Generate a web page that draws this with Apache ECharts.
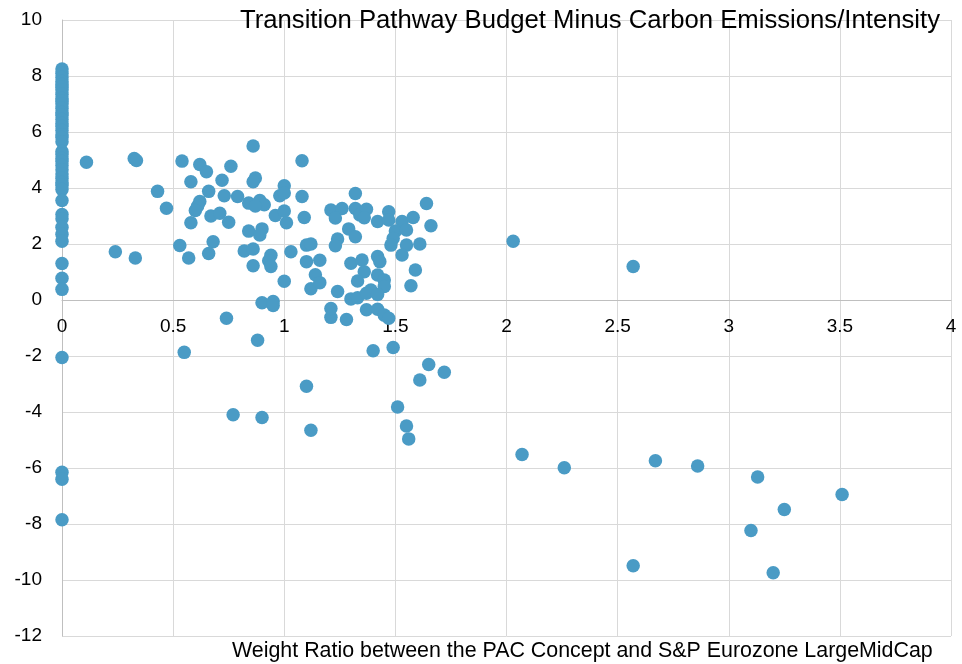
<!DOCTYPE html>
<html>
<head>
<meta charset="utf-8">
<script src="https://cdn.jsdelivr.net/npm/echarts@6/dist/echarts.min.js"></script>
<style>
  html, body { margin: 0; padding: 0; background: #fff; }
  #chart { width: 962px; height: 664px; }
</style>
</head>
<body>
<div id="chart"></div>
<script>
// y-axis title / x-axis title
const yTitle = 'Transition Pathway Budget Minus Carbon Emissions/Intensity'
const xTitle = 'Weight Ratio between the PAC Concept and S&P Eurozone LargeMidCap'

// stocks with zero weight ratio (x = 0)
const zeroColumn = [
  8.25, 8.1, 7.95, 7.8, 7.7, 7.6, 7.5, 7.35, 7.2, 7.1, 7.0, 6.85, 6.7, 6.6,
  6.45, 6.3, 6.2, 6.05, 5.9, 5.8, 5.65, 5.3, 5.2, 5.05, 4.95, 4.8, 4.65, 4.5,
  4.35, 4.2, 4.1, 3.95, 3.55, 3.05, 2.9, 2.6, 2.35, 2.1, 1.3, 0.78, 0.38,
  -2.05, -6.15, -6.4, -7.85
]

// the rest: weight ratio / budget minus emissions
const weightRatio = [
  0.11, 0.325, 0.335, 0.24, 0.33, 0.43, 0.47, 0.54, 0.62, 0.65,
  0.76, 1.08, 0.58, 0.72, 0.87, 0.86, 1.00, 0.66, 0.73, 0.79,
  0.98, 1.00, 1.08, 0.62, 0.61, 0.60, 0.84, 0.89, 0.91, 0.87,
  0.96, 1.00, 1.01, 1.09, 0.67, 0.71, 0.75, 0.58, 0.84, 0.90,
  0.89, 0.53, 0.68, 0.66, 0.57, 0.82, 0.86, 0.86, 0.94, 0.93,
  0.94, 1.03, 1.00, 0.90, 0.95, 0.95, 0.86, 0.74, 0.55, 0.88,
  1.10, 0.77, 0.90, 1.12, 1.21, 1.28, 1.21, 1.40, 1.49, 1.65,
  1.72, 1.61, 1.51, 1.55, 1.56, 1.37, 1.42, 1.45, 1.47, 2.07,
  2.26, 2.67, 2.86, 3.13, 3.51, 3.25, 3.10, 2.57, 3.20, 2.03,
  2.57, 1.10, 1.10, 1.12, 1.12, 1.16, 1.14, 1.16, 1.21, 1.32,
  1.26, 1.23, 1.32, 1.34, 1.37, 1.36, 1.42, 1.47, 1.47, 1.53,
  1.58, 1.64, 1.66, 1.50, 1.55, 1.49, 1.48, 1.55, 1.61, 1.53,
  1.29, 1.32, 1.24, 1.23, 1.30, 1.35, 1.36, 1.33, 1.42, 1.43,
  1.42, 1.45, 1.45, 1.39, 1.30, 1.33, 1.37, 1.42, 1.59, 1.57,
  1.24
]
const budgetGap = [
  4.92, 5.05, 4.98, 1.72, 1.5, 3.88, 3.28, 4.96, 4.84, 4.58,
  4.78, 4.97, 4.22, 4.28, 4.36, 4.22, 4.08, 3.88, 3.72, 3.70,
  3.72, 3.82, 3.70, 3.52, 3.35, 3.2, 3.46, 3.55, 3.40, 3.36,
  3.02, 3.18, 2.76, 2.95, 3.0, 3.10, 2.78, 2.76, 2.46, 2.54,
  2.32, 1.95, 2.08, 1.66, 1.5, 1.75, 1.82, 1.22, 1.6, 1.4,
  1.2, 1.72, 0.67, -0.1, -0.05, -0.2, 5.5, -0.65, -1.87, -1.44,
  -3.08, -4.10, -4.20, -4.65, -0.62, -0.70, -0.30, -1.81, -1.70, -2.30,
  -2.58, -2.86, -3.82, -4.50, -4.96, -0.35, -0.33, -0.54, -0.65, -5.52,
  -5.99, -5.74, -5.93, -6.32, -6.95, -7.48, -8.23, -9.49, -9.74, 2.1,
  1.2, 1.96, 1.37, 2.0, 0.4, 1.42, 0.9, 0.62, 3.21, 3.80,
  3.27, 2.93, 3.27, 3.04, 3.24, 2.94, 2.80, 3.15, 2.86, 2.80,
  2.95, 3.45, 2.65, 2.46, 2.50, 2.20, 1.96, 1.96, 2.0, 1.61,
  2.54, 2.26, 2.18, 1.94, 1.31, 1.43, 1.01, 0.68, 1.55, 1.37,
  0.89, 0.71, 0.48, 0.36, 0.04, 0.08, 0.24, 0.20, 1.07, 0.51,
  0.30
]

const xTicks = { min: 0, max: 4, interval: 0.5 }
const yTicks = { min: -12, max: 10, interval: 2 }

const points = zeroColumn.map(v => [0, v])
  .concat(weightRatio.map((x, i) => [x, budgetGap[i]]))

const chart = echarts.init(document.getElementById('chart'))
const font = 'Liberation Sans, Arial, sans-serif'
const gridTop = 20
const gridBottom = 28
// move the x axis up to y = 0 (distance from the grid bottom)
const plotH = 664 - gridTop - gridBottom
const zeroOffset = -plotH * (0 - yTicks.min) / (yTicks.max - yTicks.min)

const option = {
  animation: false,
  textStyle: { fontFamily: font },
  title: [
    {
      text: yTitle,
      right: 17,
      top: 3,
      textStyle: { fontSize: 25.7, fontWeight: 'normal', color: '#000', fontFamily: font }
    },
    {
      text: xTitle,
      left: 227,
      top: 636,
      textStyle: { fontSize: 21.4, fontWeight: 'normal', color: '#000', fontFamily: font }
    }
  ],
  grid: { left: 62, right: 11, top: gridTop, bottom: gridBottom },
  xAxis: {
    type: 'value',
    min: xTicks.min,
    max: xTicks.max,
    interval: xTicks.interval,
    offset: zeroOffset,
    axisLine: { onZero: false, lineStyle: { color: '#bfbfbf', width: 1 } },
    axisTick: { show: false },
    axisLabel: { color: '#000', fontSize: 19, margin: 17 },
    splitLine: { lineStyle: { color: '#d9d9d9', width: 1 } }
  },
  yAxis: {
    type: 'value',
    min: yTicks.min,
    max: yTicks.max,
    interval: yTicks.interval,
    axisLine: { show: true, lineStyle: { color: '#bfbfbf', width: 1 } },
    axisTick: { show: false },
    axisLabel: { color: '#000', fontSize: 19, margin: 20 },
    splitLine: { lineStyle: { color: '#d9d9d9', width: 1 } }
  },
  series: [
    {
      type: 'scatter',
      data: points,
      symbolSize: 13.5,
      itemStyle: { color: '#4a9bc5', opacity: 1 }
    }
  ]
}
chart.setOption(option)
</script>
</body>
</html>
